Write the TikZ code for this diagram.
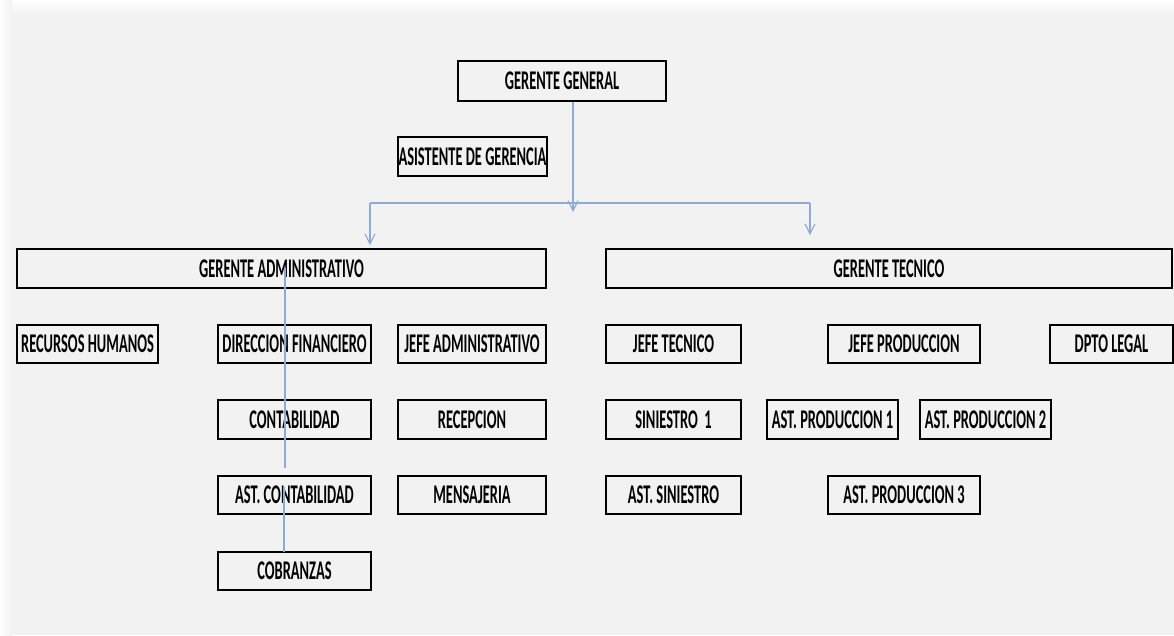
\documentclass[tikz,border=0pt]{standalone}
\usepackage{fontspec}
\newfontfamily\orgfont{Carlito}[FakeStretch=0.535]
\usetikzlibrary{arrows.meta}
\definecolor{paper}{RGB}{242,242,242}
\definecolor{link}{RGB}{143,170,214}
\tikzset{
  x=1pt, y=-1pt,
  unit/.style={draw=black, line width=1.6pt, fill=paper, inner sep=0pt,
    font=\orgfont\bfseries\fontsize{27}{27}\selectfont, text=black},
  conn/.style={draw=link, line width=1.5pt},
  arr/.style={-{Straight Barb[length=10pt,width=10pt,line width=1.2pt]}}
}
\begin{document}
\begin{tikzpicture}
% page background with soft white edges
\fill[paper] (0,0) rectangle (1174,635);
\useasboundingbox (0,0) rectangle (1174,635);
\shade[top color=white, bottom color=paper] (0,0) rectangle (1174,16);
\shade[left color=white, right color=paper] (0,0) rectangle (12,635);

% top level
\node[unit, minimum width=208pt, minimum height=40pt] (gg) at (562,81) {GERENTE GENERAL};
\node[unit, minimum width=149pt, minimum height=39pt] (asis) at (472.5,156.5) {ASISTENTE DE GERENCIA};

% managers
\node[unit, minimum width=529pt, minimum height=39pt] (ga) at (281.5,268.5) {GERENTE ADMINISTRATIVO};
\node[unit, minimum width=566pt, minimum height=39pt] (gt) at (889,268.5) {GERENTE TECNICO};

% administrative branch
\node[unit, minimum width=141pt, minimum height=38pt] (rh) at (87.5,344) {RECURSOS HUMANOS};
\node[unit, minimum width=153pt, minimum height=38pt] (df) at (294.5,344) {DIRECCION FINANCIERO};
\node[unit, minimum width=148pt, minimum height=38pt] (ja) at (472,344) {JEFE ADMINISTRATIVO};
\node[unit, minimum width=153pt, minimum height=39pt] (cont) at (294.5,419.5) {CONTABILIDAD};
\node[unit, minimum width=148pt, minimum height=39pt] (rec) at (472,419.5) {RECEPCION};
\node[unit, minimum width=153pt, minimum height=38pt] (acont) at (294.5,495) {AST. CONTABILIDAD};
\node[unit, minimum width=148pt, minimum height=38pt] (mens) at (472,495) {MENSAJERIA};
\node[unit, minimum width=153pt, minimum height=38pt] (cob) at (294.5,571) {COBRANZAS};

% technical branch
\node[unit, minimum width=135pt, minimum height=38pt] (jt) at (673.5,344) {JEFE TECNICO};
\node[unit, minimum width=152pt, minimum height=38pt] (jp) at (904,344) {JEFE PRODUCCION};
\node[unit, minimum width=123pt, minimum height=38pt] (dl) at (1111.5,344) {DPTO LEGAL};
\node[unit, minimum width=135pt, minimum height=39pt] (sin) at (673.5,419.5) {SINIESTRO~~1};
\node[unit, minimum width=131pt, minimum height=39pt] (ap1) at (832.5,419.5) {AST. PRODUCCION 1};
\node[unit, minimum width=131pt, minimum height=39pt] (ap2) at (985.5,419.5) {AST. PRODUCCION 2};
\node[unit, minimum width=135pt, minimum height=38pt] (asin) at (673.5,495) {AST. SINIESTRO};
\node[unit, minimum width=152pt, minimum height=38pt] (ap3) at (904,495) {AST. PRODUCCION 3};

% heavier lower edge on every box
\foreach \n in {gg,asis,ga,gt,rh,df,ja,cont,rec,acont,mens,cob,jt,jp,dl,sin,ap1,ap2,asin,ap3}
  \draw[line width=1pt] ([yshift=1.1pt]\n.south west) -- ([yshift=1.1pt]\n.south east);

% connectors from the general manager
\coordinate (jl) at (370,203);
\coordinate (jr) at (810,203);
\coordinate (jm) at (573,212);
\draw[conn] (jl) -- (jr);
\draw[conn, arr] ([xshift=11pt]gg.south) -- (jm);
\draw[conn, arr, shorten >=3pt] (jl) -- (jl |- ga.north);
\draw[conn, arr, shorten >=13pt] (jr) -- (jr |- gt.north);

% finance chain
\coordinate (fa) at (285,268);
\coordinate (fb) at (285,468);
\coordinate (fc) at (284,487);
\coordinate (fd) at (284,552);
\draw[conn] (fa) -- (fb);
\draw[conn] (fc) -- (fd);
\end{tikzpicture}
\end{document}
